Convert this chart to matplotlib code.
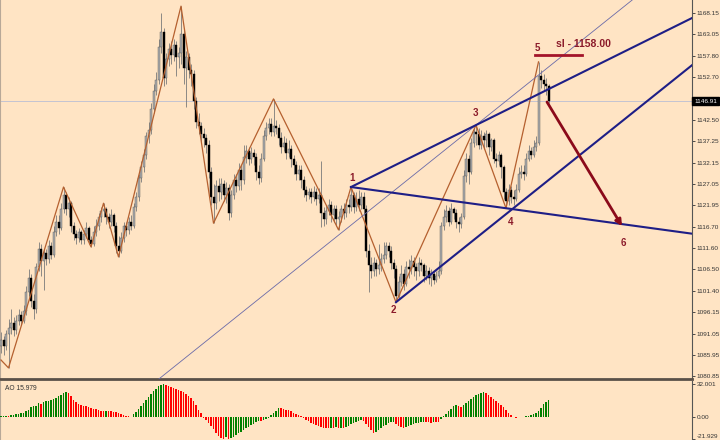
import matplotlib
matplotlib.use('Agg')
import matplotlib.pyplot as plt
import numpy as np

plt.rcParams['font.family'] = ['Liberation Sans', 'DejaVu Sans']

# --- data --------------------------------------------------------
first_open = 1088.0
closes = [
    1089.5, 1088.0, 1091.0, 1092.5, 1093.5, 1092.0, 1094.0, 1095.5, 1094.0, 1096.5,
    1101.0, 1104.5, 1099.0, 1097.0, 1107.0, 1111.5, 1108.5, 1110.5, 1109.0, 1112.0,
    1110.0, 1115.5, 1118.0, 1116.5, 1121.0, 1124.5, 1121.0, 1122.5, 1117.0, 1115.0,
    1114.0, 1115.5, 1113.5, 1115.0, 1116.5, 1113.5, 1112.5, 1115.5, 1117.0, 1119.0,
    1120.5, 1121.0, 1119.0, 1118.0, 1119.5, 1117.0, 1112.0, 1111.0, 1114.0, 1117.0,
    1116.0, 1118.0, 1117.0, 1121.5, 1124.0, 1128.5, 1131.0, 1134.0, 1138.5, 1140.0,
    1145.0, 1149.5, 1152.0, 1160.0, 1163.5, 1152.5, 1157.0, 1159.5, 1158.0, 1160.5,
    1157.5, 1158.5, 1163.0, 1155.0, 1157.5, 1154.5, 1153.5, 1147.0, 1142.0, 1141.0,
    1139.0, 1138.0, 1136.5, 1130.0, 1124.0, 1122.5, 1126.5, 1125.0, 1127.0, 1124.5,
    1126.0, 1120.0, 1124.5, 1128.0, 1126.5, 1130.5, 1128.0, 1133.5, 1135.0, 1133.0,
    1134.5, 1133.5, 1130.0, 1128.5, 1133.0, 1138.5, 1140.5, 1141.5, 1139.5, 1141.0,
    1140.5, 1138.0, 1136.0, 1137.0, 1134.5, 1135.5, 1133.0, 1131.5, 1129.5, 1130.5,
    1128.0, 1125.5, 1124.5, 1125.0, 1124.0, 1125.0, 1123.5, 1124.5, 1120.0, 1118.5,
    1120.5, 1122.0, 1119.5, 1121.0, 1118.5, 1119.0, 1121.0, 1120.0, 1122.0, 1121.5,
    1124.5, 1121.5, 1123.5, 1122.0, 1124.0, 1121.0, 1111.0, 1107.5, 1106.0, 1108.0,
    1106.5, 1107.5, 1109.0, 1110.0, 1112.0, 1111.0, 1108.0, 1106.5, 1100.0, 1103.5,
    1105.5, 1103.0, 1107.0, 1106.5, 1108.5, 1107.0, 1106.0, 1108.0, 1107.5, 1105.0,
    1106.0, 1104.5, 1105.5, 1104.0, 1105.0, 1106.0, 1117.0, 1119.0, 1120.5, 1118.0,
    1121.0, 1120.0, 1118.0, 1117.5, 1119.0, 1129.0, 1133.0, 1130.0, 1137.0, 1139.5,
    1139.0, 1136.5, 1138.5, 1137.5, 1139.0, 1136.0, 1137.5, 1133.0, 1132.5, 1134.0,
    1131.0, 1125.0, 1123.0, 1125.5, 1124.0, 1123.5, 1125.5, 1129.5, 1130.0, 1129.5,
    1133.0, 1135.0, 1134.0, 1136.0, 1137.0, 1153.0, 1152.0, 1151.0, 1150.5, 1146.91,
]
highs = [
    1091.5, 1090.5, 1092.0, 1094.5, 1097.0, 1095.0, 1095.5, 1097.0, 1096.5, 1098.0,
    1102.5, 1106.5, 1105.5, 1100.5, 1108.0, 1113.0, 1112.5, 1111.5, 1111.5, 1113.5,
    1113.0, 1117.0, 1119.5, 1119.5, 1122.5, 1126.3, 1125.0, 1124.0, 1123.0, 1118.0,
    1116.0, 1116.5, 1116.0, 1116.0, 1118.0, 1117.0, 1114.5, 1117.0, 1118.5, 1120.0,
    1121.5, 1122.4, 1121.5, 1120.0, 1121.0, 1120.0, 1118.0, 1114.5, 1115.5, 1118.0,
    1118.0, 1119.0, 1119.5, 1122.5, 1125.0, 1129.5, 1132.5, 1135.5, 1139.5, 1142.0,
    1146.5, 1151.0, 1154.0, 1162.0, 1168.15, 1164.5, 1158.5, 1161.0, 1161.5, 1162.0,
    1161.5, 1160.0, 1169.8, 1164.0, 1159.0, 1158.5, 1156.0, 1154.5, 1148.0, 1144.0,
    1142.0, 1140.5, 1139.0, 1137.5, 1131.0, 1127.0, 1128.0, 1128.5, 1128.5, 1128.0,
    1127.5, 1127.0, 1125.5, 1129.5, 1129.5, 1132.0, 1131.5, 1136.5, 1136.5, 1136.0,
    1136.0, 1135.5, 1134.5, 1131.5, 1134.5, 1140.0, 1142.0, 1143.0, 1143.0, 1147.5,
    1142.5, 1141.5, 1139.5, 1138.5, 1138.0, 1137.5, 1136.5, 1134.0, 1132.5, 1131.5,
    1131.5, 1129.0, 1126.5, 1126.0, 1126.0, 1126.5, 1126.0, 1126.0, 1132.5, 1121.5,
    1122.0, 1123.5, 1123.0, 1122.0, 1122.0, 1120.5, 1122.0, 1122.5, 1123.5, 1123.5,
    1126.3, 1125.0, 1125.0, 1125.5, 1125.0, 1125.0, 1122.0, 1112.5, 1109.5, 1109.5,
    1109.0, 1112.5, 1110.5, 1113.0, 1113.0, 1113.0, 1112.0, 1109.0, 1107.5, 1105.0,
    1107.5, 1106.5, 1108.5, 1109.0, 1110.0, 1109.5, 1108.0, 1109.5, 1109.0, 1108.0,
    1107.5, 1107.0, 1106.5, 1106.0, 1106.0, 1108.5, 1118.0, 1121.0, 1122.0, 1121.5,
    1122.5, 1121.5, 1121.0, 1119.0, 1120.0, 1130.5, 1134.5, 1134.0, 1138.0, 1140.5,
    1141.2, 1140.5, 1140.0, 1139.5, 1140.0, 1139.5, 1138.0, 1138.0, 1134.5, 1135.0,
    1134.5, 1131.5, 1126.0, 1127.0, 1126.5, 1125.5, 1127.0, 1131.0, 1131.5, 1131.5,
    1134.5, 1136.5, 1136.0, 1137.5, 1138.5, 1156.4, 1154.5, 1153.5, 1152.5, 1151.0,
]
lows = [
    1086.5, 1086.0, 1087.0, 1082.8, 1091.0, 1090.5, 1091.0, 1093.0, 1093.0, 1093.5,
    1095.5, 1100.0, 1097.5, 1094.5, 1096.0, 1106.0, 1105.0, 1101.5, 1107.5, 1108.0,
    1109.0, 1109.5, 1114.5, 1115.0, 1116.0, 1120.0, 1119.5, 1119.0, 1115.5, 1113.5,
    1112.5, 1113.0, 1112.5, 1112.5, 1114.0, 1112.5, 1111.9, 1112.0, 1114.5, 1116.0,
    1118.0, 1119.0, 1117.5, 1116.5, 1117.0, 1115.5, 1110.5, 1109.5, 1110.5, 1113.0,
    1114.5, 1115.0, 1116.0, 1116.5, 1120.5, 1123.0, 1127.5, 1130.0, 1133.0, 1137.0,
    1139.0, 1144.0, 1148.5, 1151.0, 1158.5, 1150.5, 1151.0, 1155.5, 1156.0, 1156.5,
    1153.0, 1155.0, 1156.0, 1151.0, 1145.5, 1152.5, 1150.5, 1145.0, 1140.5, 1139.0,
    1137.0, 1136.0, 1134.5, 1128.5, 1122.0, 1117.6, 1121.0, 1123.0, 1123.5, 1123.0,
    1122.5, 1118.3, 1119.0, 1123.5, 1125.0, 1125.5, 1125.6, 1127.0, 1132.0, 1131.5,
    1132.0, 1131.5, 1128.0, 1127.0, 1127.5, 1132.5, 1137.5, 1139.0, 1138.5, 1138.5,
    1139.0, 1136.5, 1134.5, 1135.0, 1133.0, 1133.5, 1131.0, 1129.5, 1128.0, 1128.0,
    1126.0, 1124.0, 1123.0, 1123.5, 1122.5, 1123.0, 1122.0, 1122.5, 1116.7, 1117.0,
    1117.5, 1119.5, 1118.0, 1118.0, 1117.0, 1116.0, 1118.0, 1118.5, 1119.0, 1120.0,
    1120.5, 1120.0, 1120.5, 1120.5, 1121.0, 1119.5, 1109.5, 1101.0, 1104.5, 1105.0,
    1105.0, 1105.5, 1106.0, 1108.0, 1109.0, 1109.5, 1106.5, 1104.5, 1098.6, 1099.5,
    1102.5, 1101.5, 1102.5, 1104.5, 1105.5, 1105.0, 1104.0, 1105.0, 1106.0, 1103.5,
    1104.0, 1103.0, 1102.5, 1103.0, 1103.5, 1104.5, 1105.5, 1116.0, 1118.0, 1117.0,
    1117.5, 1118.5, 1116.5, 1115.5, 1116.5, 1118.5, 1127.5, 1127.0, 1129.5, 1136.0,
    1136.5, 1135.5, 1135.5, 1135.5, 1136.0, 1134.0, 1135.0, 1132.0, 1131.0, 1131.5,
    1128.5, 1123.5, 1121.2, 1122.0, 1122.5, 1122.0, 1123.0, 1125.0, 1128.5, 1128.0,
    1129.0, 1132.5, 1133.0, 1133.5, 1135.0, 1136.5, 1150.0, 1149.5, 1148.5, 1146.5,
]
ao_values = [
    0.5, 0.8, 1.0, 0.7, 1.5, 2.0, 2.5, 2.8, 3.2, 3.8,
    5.5, 7.0, 9.0, 10.0, 10.5, 13.0, 12.8, 14.5, 15.0, 15.5,
    16.0, 17.0, 18.5, 20.0, 21.5, 23.0, 24.0, 23.5, 20.0, 16.5,
    14.0, 12.5, 11.5, 10.5, 10.0, 9.0, 8.5, 8.0, 7.5, 7.0,
    6.0, 5.8, 6.0, 5.7, 5.5, 5.0, 4.5, 3.5, 2.5, 1.5,
    0.8, 0.2, -0.2, 3.0, 5.0, 7.5, 10.5, 13.0, 16.0, 19.5,
    22.5, 25.0, 27.5, 30.0, 31.5, 32.0, 31.0, 30.0, 29.0, 28.5,
    27.5, 26.0, 25.0, 24.0, 22.0, 20.0, 18.0, 15.0, 11.0, 7.0,
    4.0, -1.0, -3.0, -6.0, -9.0, -12.5, -16.0, -19.0, -21.0, -21.9,
    -20.0, -21.5, -20.5, -19.5, -18.0, -16.5, -15.0, -13.0, -11.5, -10.0,
    -8.5, -7.0, -5.5, -4.0, -4.5, -3.0, -2.0, -1.0, 1.5, 3.5,
    6.0, 8.5, 8.2, 7.5, 7.0, 6.5, 5.5, 4.0, 3.0, 1.5,
    0.5, -1.5, -3.0, -4.5, -6.0, -7.5, -8.5, -9.5, -10.5, -11.0,
    -11.3, -11.5, -11.4, -11.6, -10.5, -11.2, -10.8, -11.5, -10.0, -9.0,
    -7.5, -6.0, -5.0, -4.0, -3.0, -4.5, -7.0, -10.0, -13.5, -16.0,
    -15.0, -13.0, -11.0, -9.5, -8.0, -6.5, -5.5, -5.0, -7.0, -9.5,
    -10.5, -11.0, -10.0, -9.0, -8.0, -7.0, -6.5, -6.0, -5.5, -5.0,
    -5.5, -5.6, -5.8, -5.0, -5.2, -5.4, -2.5, 0.5, 2.5, 5.5,
    8.0, 10.5, 11.0, 10.0, 9.5, 11.5, 13.5, 15.5, 17.0, 19.0,
    21.0, 22.5, 23.5, 23.8, 23.0, 21.5, 19.5, 17.5, 15.5, 13.5,
    11.5, 9.0, 6.5, 4.0, 1.5, -0.5, -1.0, -0.8, -0.5, 0.0,
    0.5, 1.0, 2.0, 3.0, 4.0, 6.0, 8.5, 12.0, 14.5, 15.979,
]

# zigzag pivots (bar index, price)
zz_idx = [0, 3, 25, 36, 41, 47, 72, 85, 109, 135, 140, 158, 190, 202, 215]
zz_price = [1084.7, 1082.8, 1126.3, 1111.9, 1122.4, 1109.5, 1169.8, 1117.6,
            1147.5, 1116.0, 1126.3, 1098.6, 1141.2, 1121.2, 1156.4]

# wave points 1..5 and the target 6
p1 = (140, 1126.3)
p2 = (158, 1098.6)
p3 = (190, 1141.2)
p4 = (202, 1121.2)
lower_end = (276.4, 1155.6)
arrow_from = (218.4, 1146.75)
arrow_to = (248.4, 1116.9)
sl_price = 1158.0
last_price = 1146.91

price_ticks = [1168.15, 1163.05, 1157.80, 1152.70, 1147.60, 1142.50, 1137.25,
               1132.15, 1127.05, 1121.95, 1116.70, 1111.60, 1106.50, 1101.40,
               1096.15, 1091.05, 1085.95, 1080.85]
ao_ticks = [32.001, 0.0, -21.929]
ao_labels = ['32.001', '0.00', '-21.929']

# --- figure ------------------------------------------------------
BG = '#FFE4C4'
WAVE = '#8B1A2A'
NAVY = '#1E1E86'
XMIN, XMAX = -0.4, 276.4

fig = plt.figure(figsize=(7.2, 4.4), dpi=100, facecolor=BG)
ax = fig.add_axes([0, 61 / 440, 692 / 720, 379 / 440], facecolor=BG)
ax2 = fig.add_axes([0, 0, 692 / 720, 59 / 440], facecolor=BG)

n = len(closes)
x = np.arange(n)
c = np.array(closes)
o = np.concatenate([[first_open], c[:-1]])
h = np.maximum(np.array(highs), np.maximum(o, c))
l = np.minimum(np.array(lows), np.minimum(o, c))

# candles
ax.vlines(x, l, h, color='#7a7a7a', lw=0.6, zorder=2)
up = c >= o
body = np.where(np.abs(c - o) < 0.3, 0.3, c - o)
ax.bar(x[up], body[up], bottom=o[up], width=0.8, color='#ababab',
       edgecolor='#5a5a5a', linewidth=0.3, zorder=3)
ax.bar(x[~up], body[~up], bottom=o[~up], width=0.8, color='black',
       edgecolor='black', linewidth=0.3, zorder=3)

# current price line
ax.axhline(last_price, color='#c4c4d2', lw=0.7, zorder=1)

# zigzag
ax.plot(zz_idx, zz_price, color='#b5602f', lw=0.9, zorder=4)

# channel lines
def extend(a, b, xe):
    k = (b[1] - a[1]) / (b[0] - a[0])
    return [a[0], xe], [a[1], a[1] + k * (xe - a[0])]

for a, b in [(p1, p3), (p1, p4), (p2, lower_end)]:
    xs, ys = extend(a, b, XMAX)
    ax.plot(xs, ys, color=NAVY, lw=1.5, zorder=5)

k_low = (lower_end[1] - p2[1]) / (lower_end[0] - p2[0])
ax.plot([XMIN, XMAX], [p3[1] + k_low * (XMIN - p3[0]), p3[1] + k_low * (XMAX - p3[0])],
        color='#6a6aa8', lw=0.6, zorder=4)

# forecast arrow and stop loss
ax.annotate('', xy=arrow_to, xytext=arrow_from,
            arrowprops=dict(arrowstyle='-|>', color='#8b0a1a', lw=2,
                            mutation_scale=9, shrinkA=0, shrinkB=0), zorder=6)
ax.plot([213.6, 232.4], [sl_price, sl_price], color='#a3142a', lw=2, zorder=6)
ax.text(232.8, 1160.7, 'sl - 1158.00', color=WAVE, fontsize=7.5,
        fontweight='bold', ha='center', va='center', zorder=7)

for lab, (tx, ty) in zip('123456', [(140.4, 1128.5), (156.8, 1096.7), (189.6, 1144.1),
                                     (204.0, 1117.9), (214.4, 1159.7), (248.8, 1112.8)]):
    ax.text(tx, ty, lab, color=WAVE, fontsize=7, fontweight='bold',
            ha='center', va='center', zorder=7)

ax.set_xlim(XMIN, XMAX)
ax.set_ylim(1080.13, 1171.28)
ax.set_xticks([])
ax.yaxis.tick_right()
ax.set_yticks(price_ticks)
# the 1147.60 label sits under the current price box
ax.set_yticklabels(['' if abs(t - last_price) < 1 else f'{t:.2f}' for t in price_ticks])
ax.tick_params(axis='y', length=2, width=0.6, pad=1.5, labelsize=4.6,
               colors='#333333')
ax.spines['top'].set_visible(False)
ax.spines['left'].set_color('#b8a898')
ax.spines['left'].set_linewidth(0.8)
ax.spines['right'].set_color('#555555')
ax.spines['right'].set_linewidth(0.8)
ax.spines['bottom'].set_color('#5a5048')
ax.spines['bottom'].set_linewidth(2)

ax.annotate(f'{last_price:.2f}', xy=(1.0, last_price),
            xycoords=('axes fraction', 'data'), xytext=(1.5, 0),
            textcoords='offset points', ha='left', va='center',
            fontsize=4.6, color='white', annotation_clip=False, zorder=10,
            bbox=dict(boxstyle='square,pad=0.25', fc='black', ec='black'))

# --- AO panel ----------------------------------------------------
ao = np.array(ao_values)
ao_up = np.concatenate([[True], ao[1:] > ao[:-1]])
ax2.bar(x, ao, width=0.75, color=np.where(ao_up, '#008000', '#ff0000'), zorder=3)
ax2.set_xlim(XMIN, XMAX)
ax2.set_ylim(-22.9, 35.0)
ax2.set_xticks([])
ax2.yaxis.tick_right()
ax2.set_yticks(ao_ticks)
ax2.set_yticklabels(ao_labels)
ax2.tick_params(axis='y', length=2, width=0.6, pad=1.5, labelsize=4.6,
                colors='#333333')
ax2.get_yticklabels()[-1].set_va('bottom')
for s in ['top', 'bottom']:
    ax2.spines[s].set_visible(False)
ax2.spines['left'].set_color('#b8a898')
ax2.spines['left'].set_linewidth(0.8)
ax2.spines['right'].set_color('#555555')
ax2.spines['right'].set_linewidth(0.8)
ax2.text(0.007, 0.88, f'AO {ao_values[-1]:.3f}', transform=ax2.transAxes,
         fontsize=4.8, color='#333333', va='center')

fig.savefig('out.png', dpi=100, facecolor=BG)
